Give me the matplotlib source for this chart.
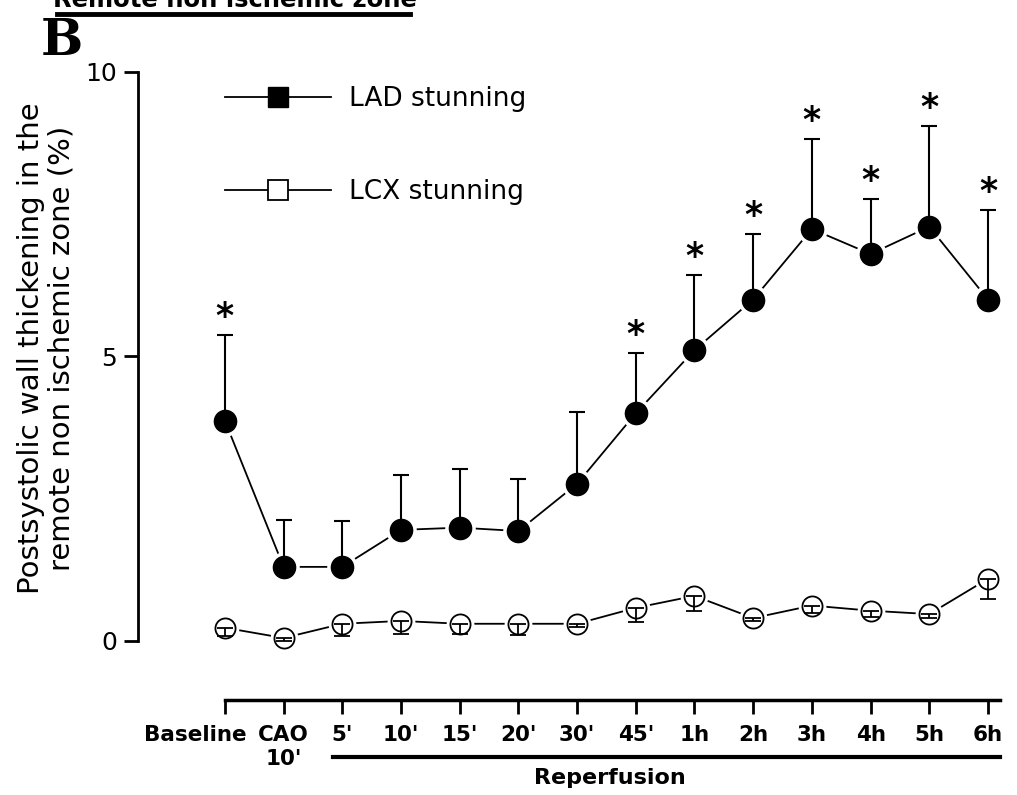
import numpy as np
import matplotlib
matplotlib.use("Agg")
import matplotlib.pyplot as plt
from matplotlib.lines import Line2D
import matplotlib.transforms as mtransforms

plt.rcParams['font.family'] = ['DejaVu Sans']

# data
labels = ["Baseline", "CAO\n10'", "5'", "10'", "15'", "20'", "30'", "45'",
          "1h", "2h", "3h", "4h", "5h", "6h"]
lad_mean = [3.87, 1.30, 1.30, 1.95, 1.99, 1.93, 2.76, 4.00, 5.11, 6.00, 7.24, 6.80, 7.28, 6.00]
lad_sem = [1.51, 0.83, 0.81, 0.97, 1.03, 0.92, 1.26, 1.06, 1.32, 1.15, 1.58, 0.97, 1.77, 1.57]
lcx_mean = [0.23, 0.05, 0.30, 0.35, 0.30, 0.30, 0.30, 0.58, 0.79, 0.40, 0.62, 0.53, 0.47, 1.09]
lcx_sem = [0.14, 0.05, 0.21, 0.23, 0.18, 0.19, 0.05, 0.25, 0.26, 0.05, 0.13, 0.11, 0.06, 0.35]
signif = [True, False, False, False, False, False, False, True,
          True, True, True, True, True, True]

x = np.arange(len(labels))
lad_mean = np.array(lad_mean)
lcx_mean = np.array(lcx_mean)
zeros = np.zeros(len(labels))

fig = plt.figure(figsize=(10.17, 7.95), dpi=100)
ax = fig.add_axes([0.1357, 0.1195, 0.983 - 0.1357, 0.9238 - 0.1195])

# connecting lines with white gaps round the markers
ax.plot(x, lad_mean, color='black', lw=1.3, zorder=1)
ax.plot(x, lcx_mean, color='black', lw=1.3, zorder=1)
ax.plot(x, lad_mean, 'o', ms=21, color='white', mec='white', zorder=2)
ax.plot(x, lcx_mean, 'o', ms=19, color='white', mec='white', zorder=2)

ax.errorbar(x, lad_mean, yerr=[zeros, lad_sem], fmt='none', ecolor='black',
            elinewidth=1.5, capsize=6, capthick=1.5, zorder=2.5)
ax.plot(x, lad_mean, 'o', ms=16, color='black', zorder=3)
ax.plot(x, lcx_mean, 'o', ms=14.5, mfc='white', mec='black', mew=1.3, zorder=3)
ax.errorbar(x, lcx_mean, yerr=[lcx_sem, zeros], fmt='none', ecolor='black',
            elinewidth=1.3, capsize=6, capthick=1.3, zorder=4)

for xi, m, s, sg in zip(x, lad_mean, lad_sem, signif):
    if sg:
        ax.text(xi, m + s + 0.02, "*", ha='center', va='bottom',
                fontsize=25, fontweight='bold')

# legend
h1 = Line2D([], [], color='black', lw=1.3, marker='s', ms=14,
            mfc='black', mec='black')
h2 = Line2D([], [], color='black', lw=1.3, marker='s', ms=14,
            mfc='white', mec='black', mew=1.3)
leg = ax.legend([h1, h2], ["LAD stunning", "LCX stunning"], loc='upper left',
                bbox_to_anchor=(0.083, 0.985), frameon=False, fontsize=19,
                handlelength=4.0, handletextpad=0.7, labelspacing=2.55,
                borderaxespad=0.2)

ax.set_xlim(-1.48, 13.2)
ax.set_ylim(-1.04, 10.2)
ax.spines['top'].set_visible(False)
ax.spines['right'].set_visible(False)
ax.spines['left'].set_bounds(0, 10)
ax.spines['bottom'].set_bounds(0, 13.2)
ax.spines['left'].set_linewidth(2)
ax.spines['bottom'].set_linewidth(2.5)
ax.set_yticks([0, 5, 10])
ax.tick_params(axis='y', length=10, width=2, labelsize=18, pad=5)
ax.set_xticks(x)
ax.set_xticklabels(labels, fontsize=15.5, fontweight='bold', linespacing=1.25)
ax.tick_params(axis='x', length=10, width=2, pad=8)
base_lbl = ax.get_xticklabels()[0]
base_lbl.set_transform(base_lbl.get_transform() +
                       mtransforms.ScaledTranslation(-0.3, 0, fig.dpi_scale_trans))
ax.set_ylabel("Postsystolic wall thickening in the\nremote non ischemic zone (%)",
              fontsize=21, linespacing=1.15)
ax.yaxis.set_label_coords(-0.072, 0.55)

# reperfusion bar under the tick labels
trans = mtransforms.blended_transform_factory(ax.transData, fig.transFigure)
ax.add_line(Line2D([1.84, 13.2], [1 - 757 / 795, 1 - 757 / 795], transform=trans,
                   color='black', lw=3, clip_on=False))
ax.text(6.56, 1 - 778 / 795, "Reperfusion", transform=trans, ha='center',
        va='center', fontsize=16, fontweight='bold')

# panel letter and clipped title
fig.text(0.04, 0.948, "B", fontsize=36, fontweight='bold', family='DejaVu Serif',
         ha='left', va='center')
fig.text(0.231, 1 - 7 / 795, "Remote non ischemic zone", fontsize=17.5,
         fontweight='bold', ha='center', va='baseline')
fig.add_artist(Line2D([57 / 1017, 410 / 1017], [1 - 14 / 795, 1 - 14 / 795],
                      color='black', lw=3.5))

fig.savefig("out.png", dpi=100)
